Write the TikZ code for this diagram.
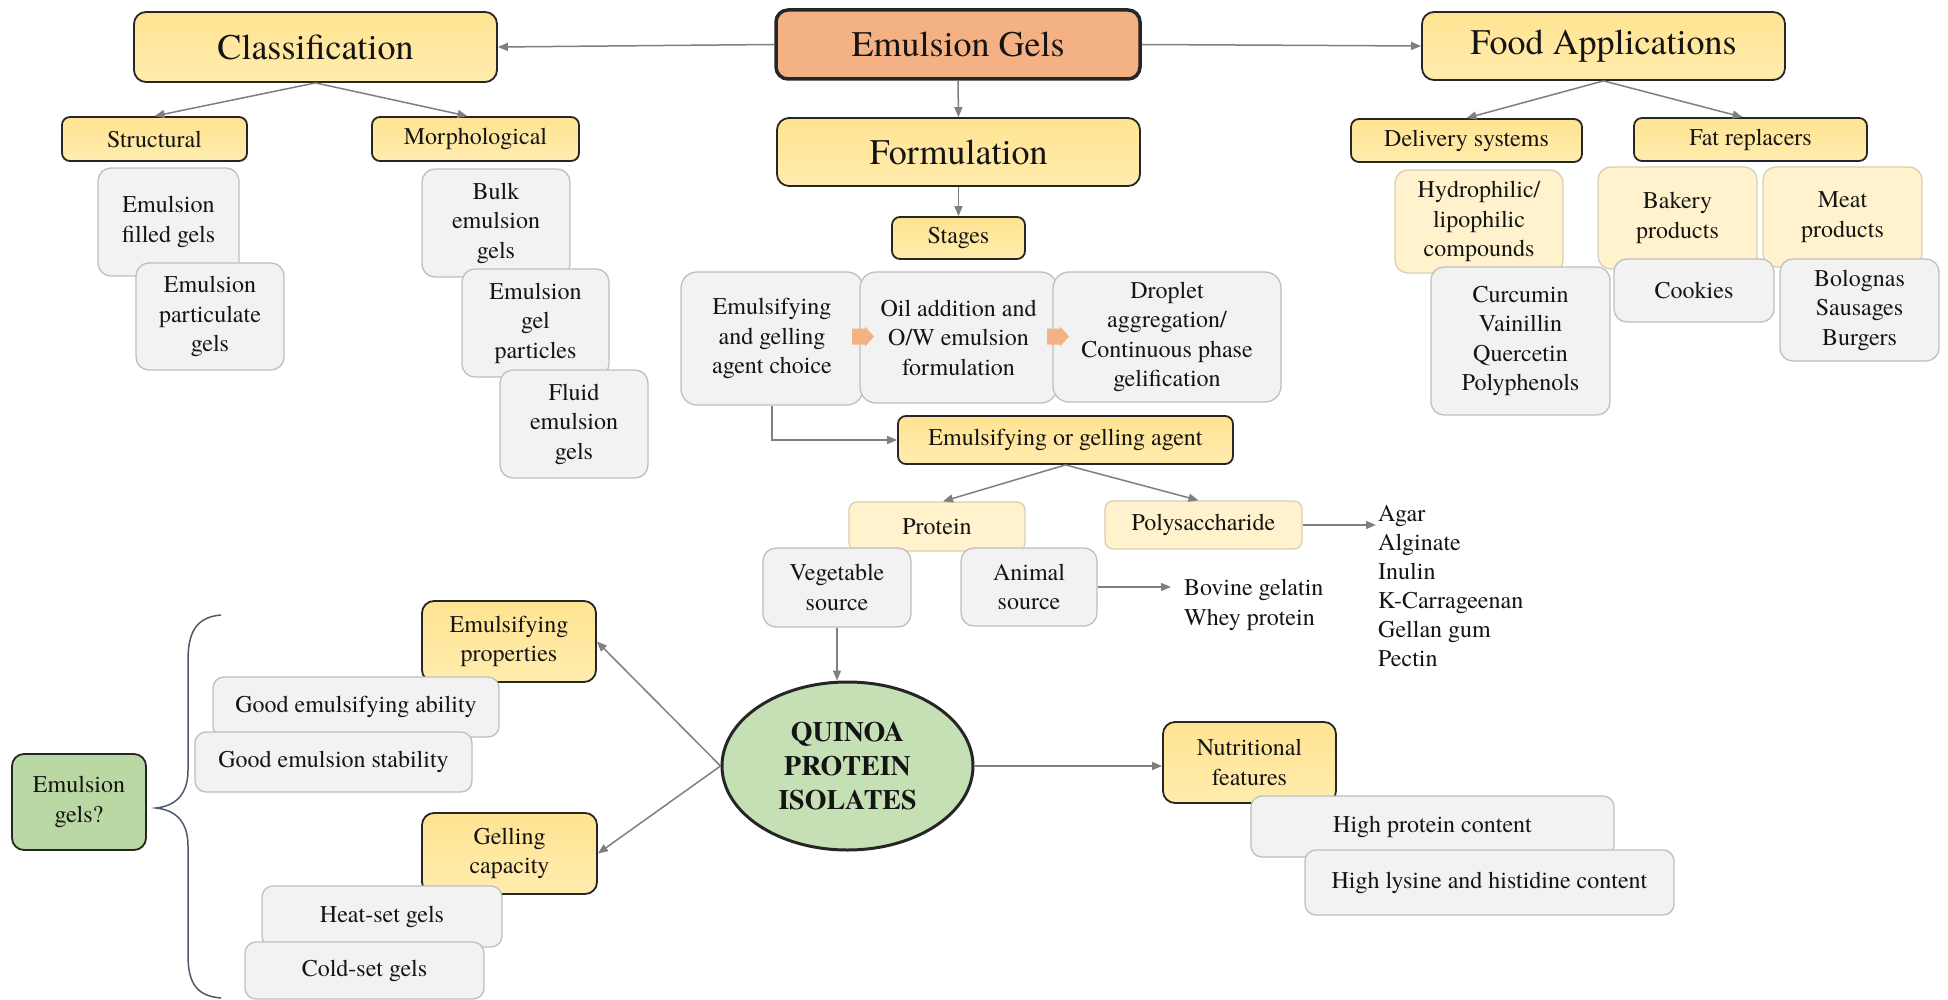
\documentclass[tikz,border=0pt]{standalone}
\usepackage{fontspec}
\setmainfont{texgyretermes-regular.otf}[BoldFont=texgyretermes-bold.otf, ItalicFont=texgyretermes-italic.otf]
\usetikzlibrary{arrows.meta,shapes.geometric,calc}
\definecolor{ytop}{HTML}{FFE391}
\definecolor{ybot}{HTML}{FFECAE}
\definecolor{ylight}{HTML}{FFF2CC}
\definecolor{ylborder}{HTML}{D9CFB0}
\definecolor{gfill}{HTML}{F2F2F2}
\definecolor{gborder}{HTML}{BFBFBF}
\definecolor{salmon}{HTML}{F4B183}
\definecolor{greenA}{HTML}{C5E0B4}
\definecolor{greenB}{HTML}{B9D8A3}
\definecolor{bdark}{HTML}{262626}
\definecolor{cgray}{HTML}{7F7F7F}
\definecolor{txt}{HTML}{141414}
\definecolor{bracec}{HTML}{4F5B6B}
\newcommand\bigtxt{\fontsize{36}{42}\selectfont}
\newcommand\midtxt{\fontsize{24}{29.5}\selectfont}
\newcommand\qtxt{\fontsize{28}{34}\selectfont\bfseries}
\begin{document}
\begin{tikzpicture}[x=1pt,y=-1pt,
  base/.style={align=center, inner sep=0pt, text=txt, font=\midtxt},
  ybox/.style={base, rounded corners=12pt, top color=ytop, bottom color=ybot, draw=bdark, line width=1.8pt},
  lybox/.style={base, rounded corners=13pt, fill=ylight, draw=ylborder, line width=1.3pt},
  gbox/.style={base, rounded corners=13pt, fill=gfill, draw=gborder, line width=1.3pt},
  conn/.style={draw=cgray, line width=1.5pt, -{Triangle[length=10pt,width=8pt]}},
  sz/.style 2 args={minimum width=#1pt, minimum height=#2pt}
]
\useasboundingbox (0,0) rectangle (1948,1000);
\fill[white] (0,0) rectangle (1948,1000);

% ---- top row
\node[ybox, font=\bigtxt, sz={363}{70}] (class) at (315.5,47) {Classification};
\node[base, font=\bigtxt, rounded corners=12pt, fill=salmon, draw=bdark, line width=3.5pt, sz={364}{69}] (eg) at (958,44.5) {Emulsion Gels};
\node[ybox, font=\bigtxt, sz={363}{68}] (fa) at (1603.5,46) {Food Applications};
\node[ybox, font=\bigtxt, sz={363}{68}] (form) at (958.5,152) {Formulation};

% ---- classification branch
\node[ybox, rounded corners=8pt, sz={185}{44}] (struct) at (154.5,139) {Structural};
\node[ybox, rounded corners=8pt, sz={207}{44}] (morph) at (475.5,139) {Morphological};
\node[gbox, sz={141}{108}] (efg) at (168.5,222) {Emulsion\\filled gels};
\node[gbox, sz={148}{107}] (epg) at (210,316.5) {Emulsion\\particulate\\gels};
\node[gbox, sz={148}{108}] (beg) at (496,223) {Bulk\\emulsion\\gels};
\node[gbox, sz={147}{108}] (egp) at (535.5,323) {Emulsion\\gel\\particles};
\node[gbox, sz={148}{108}] (feg) at (574,424) {Fluid\\emulsion\\gels};

% ---- food applications branch
\node[ybox, rounded corners=8pt, sz={231}{43}] (deliv) at (1466.5,140.5) {Delivery systems};
\node[ybox, rounded corners=8pt, sz={233}{43}] (fat) at (1750.5,139.5) {Fat replacers};
\node[lybox, sz={168}{103}] (hydro) at (1479,221.5) {Hydrophilic/\\lipophilic\\compounds};
\node[gbox, sz={179}{148}] (curc) at (1520.5,341) {Curcumin\\Vainillin\\Quercetin\\Polyphenols};
\node[lybox, sz={159}{102}] (bake) at (1677.5,218) {Bakery\\products};
\node[lybox, sz={159}{100}] (meat) at (1842.5,217) {Meat\\products};
\node[gbox, sz={160}{63}] (cook) at (1694,290.5) {Cookies};
\node[gbox, sz={159}{102}] (bolo) at (1859.5,310) {Bolognas\\Sausages\\Burgers};

% ---- formulation branch
\node[ybox, rounded corners=8pt, sz={133}{42}] (stages) at (958.5,238) {Stages};
\node[gbox, rounded corners=16pt, sz={182}{133}] (choice) at (772,338.5) {Emulsifying\\and gelling\\agent choice};
\node[gbox, rounded corners=16pt, sz={197}{131}] (oil) at (958.5,337.5) {Oil addition and\\O/W emulsion\\formulation};
\node[gbox, rounded corners=16pt, sz={228}{130}] (drop) at (1167,337) {Droplet\\aggregation/\\Continuous phase\\gelification};
\coordinate (sa1) at (852,336.5);
\coordinate (sa2) at (1047,336.5);
\foreach \c in {sa1,sa2}{
  \fill[salmon] ($(\c)+(0,-8)$) -- ++(13,0) -- ++(0,-2) -- ++(9,10) -- ++(-9,10) -- ++(0,-2) -- ++(-13,0) -- cycle;
}
\node[ybox, rounded corners=8pt, sz={335}{48}] (agent) at (1065.5,440) {Emulsifying or gelling agent};

\node[lybox, rounded corners=8pt, sz={176}{49}] (prot) at (937,526.5) {Protein};
\node[lybox, rounded corners=8pt, sz={197}{48}] (poly) at (1203.5,525) {Polysaccharide};
\node[gbox, sz={148}{79}] (veg) at (837,587.5) {Vegetable\\source};
\node[gbox, sz={136}{78}] (anim) at (1029,587) {Animal\\source};
\node[base, align=left, anchor=west, inner xsep=13pt] (bov) at (1171,605) {Bovine gelatin\\Whey protein};
\node[base, align=left, anchor=west, inner xsep=2pt, font=\fontsize{24}{29}\selectfont] (list) at (1376,586) {Agar\\Alginate\\Inulin\\K-Carrageenan\\Gellan gum\\Pectin};

% ---- quinoa
\node[base, ellipse, fill=greenA, draw=bdark, line width=3pt, sz={251}{168}, font=\qtxt] (qpi) at (847.5,766) {QUINOA\\PROTEIN\\ISOLATES};

\node[ybox, sz={173}{81}] (nf) at (1249.5,762.5) {Nutritional\\features};
\node[gbox, rounded corners=11pt, sz={363}{61}] (hpc) at (1432.5,826.5) {High protein content};
\node[gbox, rounded corners=11pt, sz={369}{65}] (hlh) at (1489.5,882.5) {High lysine and histidine content};

\node[ybox, sz={174}{81}] (ep) at (509,641.5) {Emulsifying\\properties};
\node[gbox, rounded corners=11pt, sz={286}{60}] (gea) at (356,707) {Good emulsifying ability};
\node[gbox, rounded corners=11pt, sz={277}{60}] (ges) at (333.5,762) {Good emulsion stability};
\node[ybox, sz={175}{81}] (gc) at (509.5,853.5) {Gelling\\capacity};
\node[gbox, rounded corners=11pt, sz={240}{61}] (heat) at (382,916.5) {Heat-set gels};
\node[gbox, rounded corners=11pt, sz={239}{57}] (cold) at (364.5,970.5) {Cold-set gels};

\node[base, rounded corners=12pt, fill=greenB, draw=bdark, line width=1.8pt, sz={134}{96}] (q) at (79,802) {Emulsion\\gels?};

% brace
\coordinate (brT) at (221,615);
\coordinate (brM) at (156,808);
\coordinate (brB) at (221,998);
\draw[bracec, line width=1.5pt]
  (brT) .. controls (198,617) and (188,630) .. (188,660)
  -- (188,770) .. controls (188,795) and (175,806) .. (brM)
  .. controls (175,810) and (188,821) .. (188,846)
  -- (188,955) .. controls (188,985) and (198,996) .. (brB);

% ---- connectors
\draw[conn] (eg.west) -- (class.east);
\draw[conn] (eg.east) -- (fa.west);
\draw[conn] (eg.south) -- (form.north);
\draw[conn] (form.south) -- (stages.north);
\draw[conn] (class.south) -- (struct.north);
\draw[conn] (class.south) -- ($(morph.north)+(-8,0)$);
\draw[conn] (fa.south) -- (deliv.north);
\draw[conn] (fa.south) -- ($(fat.north)+(-8,0)$);
\draw[conn] (choice.south) |- (agent.west);
\draw[conn] (agent.south) -- ($(prot.north)+(6,0)$);
\draw[conn] (agent.south) -- ($(poly.north)+(-5,0)$);
\draw[conn] (poly.east) -- (poly.east -| list.west);
\draw[conn] (anim.east) -- (anim.east -| bov.west);
\draw[conn] (veg.south) -- (veg.south |- qpi.north);
\draw[conn] (qpi.west) -- (ep.east);
\draw[conn] (qpi.west) -- (gc.east);
\draw[conn] (qpi.east) -- (qpi.east -| nf.west);
\end{tikzpicture}
\end{document}
